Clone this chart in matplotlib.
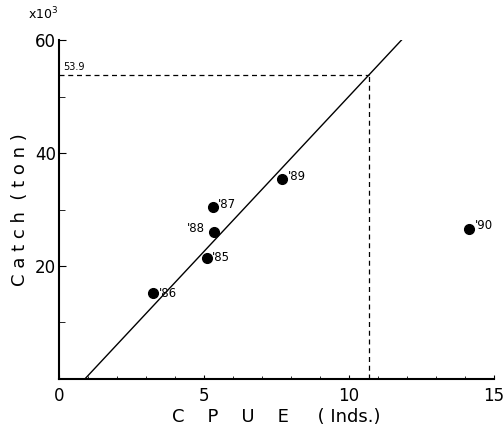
import matplotlib
matplotlib.use("Agg")
import matplotlib.pyplot as plt
import numpy as np

years = ["'85", "'86", "'87", "'88", "'89", "'90"]
cpue = [5.10, 3.24, 5.30, 5.36, 7.71, 14.15]
catch = [21.5, 15.2, 30.4, 26.1, 35.4, 26.5]

line_x = [0.9, 11.9]
line_slope = 5.5
msy_catch = 53.9
msy_cpue = 10.7

fig = plt.figure(figsize=(5.03, 4.32), dpi=100)
ax = fig.add_axes([0.117, 0.123, 0.865, 0.784])

ax.plot(cpue, catch, 'o', color='black', markersize=7)
label_off = {"'85": (4, 0), "'86": (4, 0), "'87": (4, 2), "'88": (-20, 2), "'89": (4, 2), "'90": (4, 3)}
for yr, x, y in zip(years, cpue, catch):
    dx, dy = label_off[yr]
    ax.annotate(yr, (x, y), xytext=(dx, dy), textcoords='offset points',
                fontsize=8.5, va='center', ha='left')

lx = np.array(line_x)
ax.plot(lx, line_slope * (lx - line_x[0]), color='black', lw=1.0)
ax.plot([0, msy_cpue], [msy_catch, msy_catch], ls=(0, (4, 3)), color='black', lw=0.9)
ax.plot([msy_cpue, msy_cpue], [0, msy_catch], ls=(0, (4, 3)), color='black', lw=0.9)
ax.text(0.15, msy_catch + 0.5, '53.9', fontsize=7, ha='left', va='bottom')

ax.set_xlim(0, 15)
ax.set_ylim(0, 60)
for s in ['top', 'right']:
    ax.spines[s].set_visible(False)
ax.spines['left'].set_linewidth(1.5)
ax.spines['bottom'].set_linewidth(1.5)

ax.set_xticks([0, 5, 10, 15])
ax.set_xticks(np.arange(0, 15.1, 1), minor=True)
ax.set_yticks([20, 40, 60])
ax.set_yticklabels(['20', '40', '60'])
ax.set_yticks([10, 30, 50], minor=True)
ax.tick_params(axis='y', which='major', direction='in', length=5, labelsize=12, pad=2)
ax.tick_params(axis='y', which='minor', direction='in', length=4)
ax.tick_params(axis='x', which='major', direction='in', length=3, labelsize=12, pad=6)
ax.tick_params(axis='x', which='minor', direction='in', length=2)

ax.set_xlabel('C    P    U    E     ( Inds.)', fontsize=13, labelpad=2)
ax.set_ylabel('C a t c h  ( t o n )', fontsize=13, labelpad=4)
fig.text(0.056, 0.955, r'x10$^3$', fontsize=9)

fig.savefig('out.png', dpi=100)
